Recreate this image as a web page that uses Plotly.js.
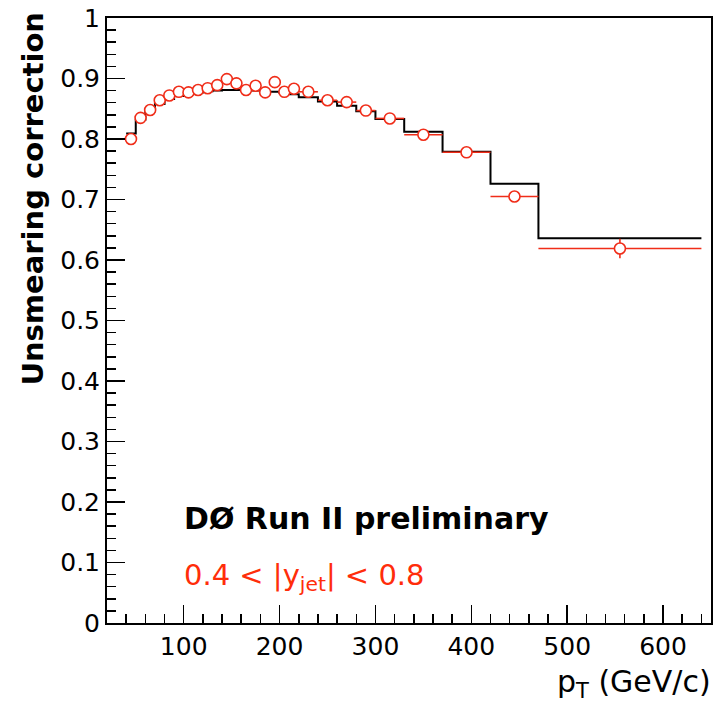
<!DOCTYPE html>
<html>
<head>
<meta charset="utf-8">
<script src="https://cdn.plot.ly/plotly-3.0.1.min.js"></script>
<style>html,body{margin:0;padding:0;background:#fff;}</style>
</head>
<body>
<div id="chart" style="width:713px;height:704px;"></div>
<script>
// Bin edges in pT (GeV/c)
const binEdges = [40,50,60,70,80,90,100,110,120,130,140,150,160,170,180,190,200,210,220,240,260,280,300,330,370,420,470,640];
// MC unsmearing correction (black histogram)
const mcCorrection = [0.809,0.832,0.846,0.858,0.866,0.871,0.874,0.877,0.879,0.880,0.881,0.881,0.881,0.880,0.879,0.878,0.876,0.874,0.869,0.862,0.855,0.846,0.833,0.812,0.779,0.726,0.636];
// Data-driven unsmearing correction (red points)
const dataCorrection = [0.800,0.835,0.848,0.864,0.872,0.878,0.877,0.881,0.884,0.889,0.899,0.892,0.881,0.888,0.877,0.894,0.878,0.883,0.878,0.864,0.861,0.847,0.834,0.807,0.778,0.705,0.619];
const dataError = [0.005,0.005,0.005,0.005,0.005,0.005,0.005,0.005,0.005,0.006,0.009,0.007,0.007,0.006,0.006,0.006,0.006,0.006,0.005,0.005,0.007,0.008,0.007,0.004,0.004,0.005,0.016];
const xTickVals = [100,200,300,400,500,600];
const yTickVals = [0,0.1,0.2,0.3,0.4,0.5,0.6,0.7,0.8,0.9,1];
const labelTexts = ['DØ Run II preliminary', '0.4 < |y<sub>jet</sub>| < 0.8'];
const xTitleText = 'p<sub>T</sub> (GeV/c)';
const yTitleText = 'Unsmearing correction';

const red = 'rgb(240,45,25)';
const centers = [], halfW = [];
for (let i = 0; i < binEdges.length - 1; i++) {
  centers.push((binEdges[i] + binEdges[i+1]) / 2);
  halfW.push((binEdges[i+1] - binEdges[i]) / 2);
}
const stepY = mcCorrection.concat([mcCorrection[mcCorrection.length - 1]]);
const ff = 'DejaVu Sans, sans-serif';

const traces = [
  {
    x: binEdges, y: stepY, type: 'scatter', mode: 'lines',
    line: {shape: 'hv', color: '#000', width: 2},
    hoverinfo: 'skip', showlegend: false
  },
  {
    x: centers, y: dataCorrection, type: 'scatter', mode: 'markers',
    marker: {symbol: 'circle', size: 11, color: '#fff', line: {color: red, width: 1.6}},
    error_x: {type: 'data', array: halfW, visible: true, color: red, thickness: 1.6, width: 0},
    error_y: {type: 'data', array: dataError, visible: true, color: red, thickness: 1.6, width: 0},
    showlegend: false
  }
];

const tickFont = {family: ff, size: 25, color: '#000'};
const layout = {
  width: 713, height: 704,
  margin: {l: 107, r: 2, t: 18, b: 81},
  paper_bgcolor: '#fff', plot_bgcolor: '#fff',
  showlegend: false,
  xaxis: {
    range: [20, 650], tickvals: xTickVals, ticktext: xTickVals.map(String),
    ticks: 'inside', ticklen: 18, tickwidth: 1.5, tickcolor: '#000',
    minor: {dtick: 20, tick0: 0, ticks: 'inside', ticklen: 9, tickwidth: 1.5, tickcolor: '#000'},
    showline: true, mirror: true, linecolor: '#000', linewidth: 2,
    showgrid: false, zeroline: false, tickfont: tickFont
  },
  yaxis: {
    range: [0, 1], tickvals: yTickVals, ticktext: yTickVals.map(String),
    ticks: 'inside', ticklen: 18, tickwidth: 1.5, tickcolor: '#000',
    minor: {dtick: 0.02, tick0: 0, ticks: 'inside', ticklen: 9, tickwidth: 1.5, tickcolor: '#000'},
    showline: true, mirror: true, linecolor: '#000', linewidth: 2,
    showgrid: false, zeroline: false, tickfont: tickFont
  },
  annotations: [
    {text: yTitleText, xref: 'paper', yref: 'paper', x: -0.122, y: 0.702,
     xanchor: 'center', yanchor: 'middle', textangle: -90, showarrow: false,
     font: {family: ff, size: 29, color: '#000', weight: 'bold'}},
    {text: xTitleText, xref: 'paper', yref: 'paper', x: 1.004, y: -0.1,
     xanchor: 'right', yanchor: 'middle', showarrow: false,
     font: {family: ff, size: 30, color: '#000'}},
    {text: labelTexts[0], xref: 'paper', yref: 'paper', x: 0.124, y: 0.172,
     xanchor: 'left', yanchor: 'middle', showarrow: false,
     font: {family: ff, size: 30, color: '#000', weight: 'bold'}},
    {text: labelTexts[1], xref: 'paper', yref: 'paper', x: 0.124, y: 0.076,
     xanchor: 'left', yanchor: 'middle', showarrow: false,
     font: {family: ff, size: 29, color: 'rgb(255,45,10)'}}
  ]
};

Plotly.newPlot('chart', traces, layout, {displayModeBar: false, staticPlot: true});
</script>
</body>
</html>
